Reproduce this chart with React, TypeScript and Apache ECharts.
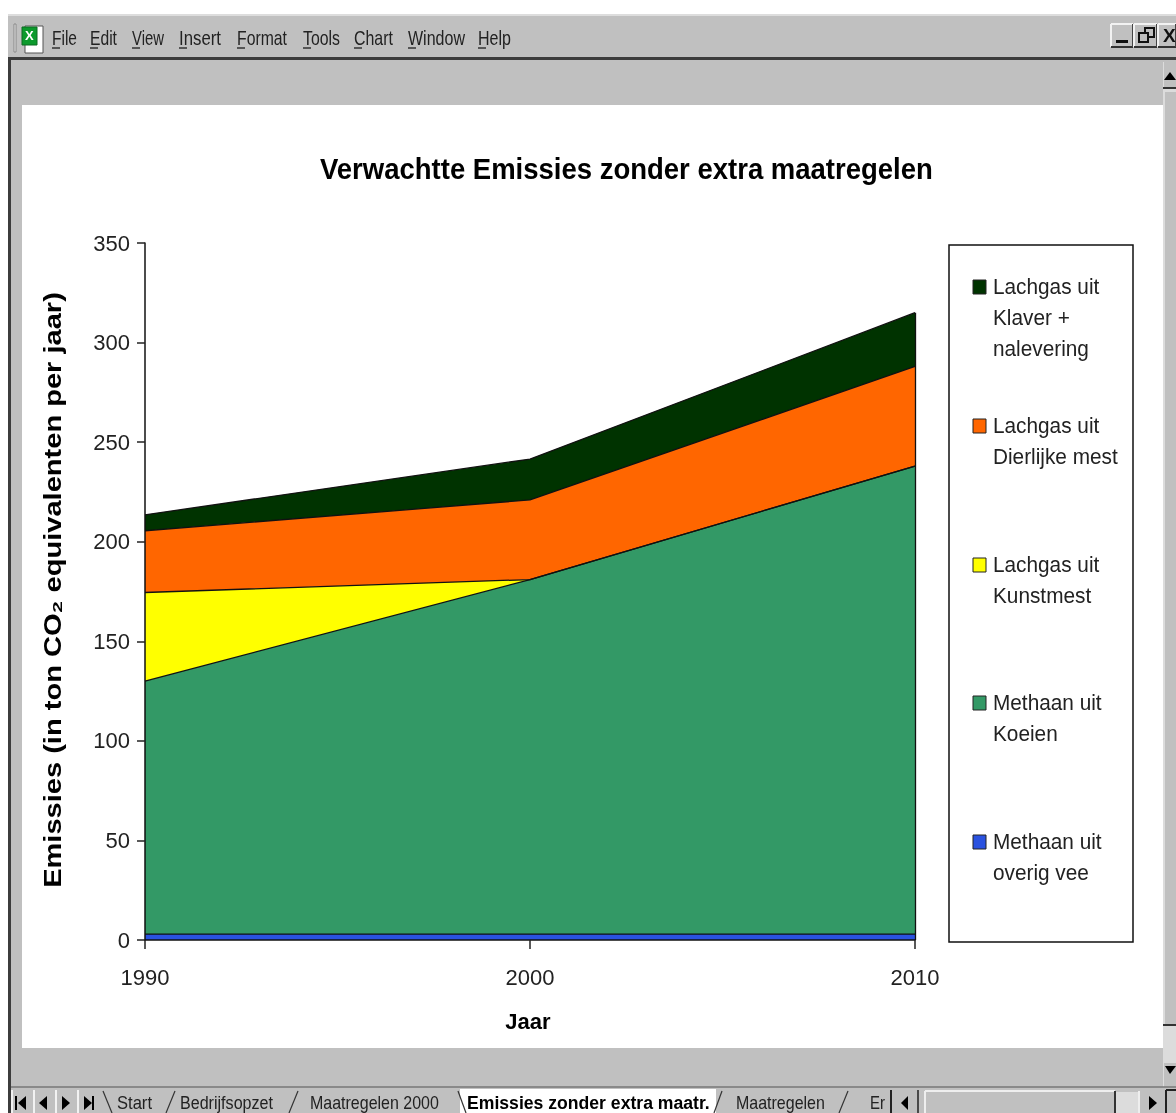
import React, { useEffect, useRef } from "react";
import * as echarts from "echarts";

const years = ["1990", "2000", "2010"];
const overigVee = [3, 3, 3];
const koeien = [127, 178, 235];
const kunstmest = [44.5, 0, 0];
const dierlijkeMest = [31, 40, 50];
const klaver = [8, 20.5, 27];

const seriesNames = ["Methaan uit\noverig vee", "Methaan uit\nKoeien", "Lachgas uit\nKunstmest", "Lachgas uit\nDierlijke mest", "Lachgas uit\nKlaver +\nnalevering"];
const seriesColors = ["#2a52e0", "#339966", "#ffff00", "#ff6600", "#003300"];
const seriesValues = [overigVee, koeien, kunstmest, dierlijkeMest, klaver];
const legendRows = [842, 703, 565, 426, 287];
const chartTitle = "Verwachtte Emissies zonder extra maatregelen";
const yAxisTitle = "Emissies (in ton CO₂ equivalenten per jaar)";
const xAxisTitle = "Jaar";

const menuItems: [string, number, number][] = [
  ["File", 52, 25], ["Edit", 90, 27], ["View", 132, 32], ["Insert", 179, 42], ["Format", 237, 50],
  ["Tools", 303, 37], ["Chart", 354, 39], ["Window", 408, 57], ["Help", 478, 33],
];
const tabs: [string, number, number, boolean][] = [
  ["Start", 117, 35, false], ["Bedrijfsopzet", 180, 93, false], ["Maatregelen 2000", 310, 129, false],
  ["Emissies zonder extra maatr.", 467, 243, true], ["Maatregelen", 736, 89, false], ["Er", 870, 15, false],
];
const tabSeparators = [
  [103, 112], [175, 166], [298, 289], [458, 466], [722, 714], [848, 839],
];

const G = "#c0c0c0";
const SANS = "Liberation Sans";

function rect(x: number, y: number, w: number, h: number, fill: string, stroke?: string, z = -5, lw = 1) {
  return { type: "rect", z, shape: { x, y, width: w, height: h }, style: { fill, stroke: stroke || undefined, lineWidth: stroke ? lw : 0 } };
}
function line(x1: number, y1: number, x2: number, y2: number, stroke: string, lineWidth = 1, z = -3) {
  return { type: "line", z, shape: { x1, y1, x2, y2 }, style: { stroke, lineWidth } };
}
function tri(points: number[][], fill = "#000") {
  return { type: "polygon", z: -2, shape: { points }, style: { fill } };
}
function measure(t: string, font: string) {
  const c = document.createElement("canvas").getContext("2d")!;
  c.font = font;
  return c.measureText(t).width;
}
function fittedText(t: string, x: number, width: number, y: number, size: number, bold = false, fill = "#222", z = -1) {
  const font = `${bold ? "bold " : ""}${size}px ${SANS}`;
  return {
    type: "text", z, x, y, scaleX: width / measure(t, font),
    style: { text: t, fill, font, verticalAlign: "middle" },
  };
}

function chromeElements() {
  const els: any[] = [];
  els.push(rect(0, 0, 1176, 1113, "#ffffff", undefined, -9));
  els.push(rect(8, 14, 1168, 1099, G, undefined, -8));
  els.push(line(8, 15, 1176, 15, "#dddddd", 2));
  els.push(rect(8, 57, 1168, 3, "#3c3c3c", undefined, -4));
  els.push(rect(8, 57, 3, 1056, "#3c3c3c", undefined, -4));
  els.push(rect(22, 105, 1141, 943, "#ffffff", undefined, -4));
  // excel icon
  els.push(rect(14, 24, 2, 28, "#e8e8e8", "#888888"));
  els.push(rect(25, 26, 18, 27, "#ffffff", "#555555", -3));
  els.push(rect(22, 27, 15, 18, "#0c9a2c", "#0a6a20", -2));
  els.push({ type: "text", z: -1, x: 25, y: 29, style: { text: "X", fill: "#ffffff", font: `bold 13px ${SANS}` } });
  // menu
  menuItems.forEach(([t, x, w]) => {
    els.push(fittedText(t, x, w, 38, 20));
    els.push(line(x, 48, x + 8, 48, "#333333", 1.5));
  });
  // window buttons
  [[1111, 22], [1134, 23], [1158, 18]].forEach(([x, w]) => {
    els.push(line(x, 24, x + w, 24, "#f2f2f2", 2));
    els.push(line(x, 24, x, 47, "#f2f2f2", 2));
    els.push(line(x, 47, x + w, 47, "#333333", 2));
    els.push(line(x + w, 24, x + w, 47, "#444444", 2));
  });
  els.push(rect(1116, 40, 12, 3, "#111111", undefined, -2));
  els.push(rect(1145, 28, 9, 9, "none", "#111111", -2, 2));
  els.push(rect(1139, 33, 9, 9, G, "#111111", -1, 2));
  els.push({ type: "text", z: -1, x: 1163, y: 26, style: { text: "X", fill: "#111", font: `bold 19px ${SANS}` } });
  // scrollbar
  els.push(rect(1163, 62, 13, 1026, "#dcdcdc", undefined, -4));
  els.push(rect(1164, 62, 12, 26, G, undefined, -3));
  els.push(line(1163, 88, 1176, 88, "#333333", 2));
  els.push(tri([[1170, 72], [1176, 80], [1164, 80]]));
  els.push(rect(1165, 92, 11, 933, G, undefined, -3));
  els.push(line(1163, 1025, 1176, 1025, "#333333", 2));
  els.push(rect(1164, 1063, 12, 24, G, undefined, -3));
  els.push(tri([[1165, 1066], [1176, 1066], [1170, 1074]]));
  // tab bar
  els.push(rect(11, 1087, 1165, 26, G, undefined, -4));
  els.push(line(11, 1087, 1176, 1087, "#777777", 1.5));
  [12, 34, 56, 78].forEach((x) => els.push(line(x, 1090, x, 1113, "#f2f2f2", 2)));
  els.push(rect(15, 1096, 2, 14, "#000", undefined, -2));
  els.push(tri([[26, 1096], [26, 1110], [18, 1103]]));
  els.push(tri([[47, 1096], [47, 1110], [39, 1103]]));
  els.push(tri([[62, 1096], [62, 1110], [70, 1103]]));
  els.push(tri([[84, 1096], [84, 1110], [92, 1103]]));
  els.push(rect(92, 1096, 2, 14, "#000", undefined, -2));
  els.push(rect(460, 1089, 256, 24, "#ffffff", undefined, -3));
  tabSeparators.forEach(([a, b]) => els.push(line(a, 1091, b, 1113, "#333333", 1.2)));
  tabs.forEach(([t, x, w, active]) => els.push(fittedText(t, x, w, 1103, 18, active, active ? "#000" : "#222")));
  els.push(line(891, 1090, 891, 1113, "#222222", 2));
  els.push(line(918, 1090, 918, 1113, "#222222", 1.5));
  els.push(tri([[908, 1096], [908, 1110], [901, 1103]]));
  els.push(line(925, 1091, 1115, 1091, "#eeeeee", 2));
  els.push(line(925, 1091, 925, 1113, "#eeeeee", 2));
  els.push(line(1115, 1091, 1115, 1113, "#333333", 2));
  els.push(rect(1116, 1092, 22, 21, "#dcdcdc", undefined, -3));
  els.push(line(1139, 1091, 1139, 1113, "#eeeeee", 2));
  els.push(tri([[1149, 1096], [1149, 1110], [1157, 1103]]));
  els.push(line(1166, 1090, 1176, 1090, "#222222", 2));
  els.push(line(1166, 1090, 1166, 1113, "#222222", 2));
  return els;
}

function legendElements() {
  const els: any[] = [];
  els.push({ type: "rect", z: 3, shape: { x: 949, y: 245, width: 184, height: 697 }, style: { fill: "#ffffff", stroke: "#111111", lineWidth: 1.5 } });
  seriesNames.forEach((name, i) => {
    const y = legendRows[i];
    els.push({ type: "rect", z: 4, shape: { x: 973, y: y - 7, width: 13, height: 14 }, style: { fill: seriesColors[i], stroke: "#222222", lineWidth: 1 } });
    els.push({
      type: "text", z: 4, x: 993, y: y - 16, scaleX: 0.945,
      style: { text: name, fill: "#222", font: `22px ${SANS}`, lineHeight: 31, overflow: "none" },
    });
  });
  return els;
}

function titleElements() {
  const yFont = `bold 24px ${SANS}`;
  return [
    { ...fittedText(chartTitle, 320, 613, 169, 30, true, "#000", 5) },
    {
      type: "text", z: 5, x: 53, y: 590, rotation: Math.PI / 2,
      scaleX: 596 / measure(yAxisTitle, yFont),
      style: { text: yAxisTitle, fill: "#000", font: yFont, align: "center", verticalAlign: "middle" },
    },
  ];
}

export default function App() {
  const ref = useRef<HTMLDivElement>(null);
  useEffect(() => {
    const chart = echarts.init(ref.current!, undefined, { renderer: "svg" });
    const font = { fontFamily: SANS, color: "#222" };
    const lastTotal = seriesValues.reduce((s, v) => s + v[v.length - 1], 0);
    chart.setOption({
      animation: false,
      grid: { left: 145, right: 261, top: 243, bottom: 173 },
      xAxis: {
        type: "category", data: years, boundaryGap: false,
        name: xAxisTitle, nameLocation: "middle", nameGap: 70,
        nameTextStyle: { ...font, fontSize: 22, fontWeight: "bold", color: "#000", padding: [0, 4, 0, 0] },
        axisLine: { lineStyle: { color: "#111", width: 1.5 } },
        axisTick: { show: true, length: 9, lineStyle: { color: "#222", width: 1.5 } },
        axisLabel: { ...font, fontSize: 22, margin: 26, showMinLabel: true, showMaxLabel: true, interval: 0 },
        splitLine: { show: false },
        z: 6,
      },
      yAxis: {
        type: "value", min: 0, max: 350, interval: 50,
        axisLine: { show: true, lineStyle: { color: "#111", width: 1.5 } },
        axisTick: { show: true, length: 8, lineStyle: { color: "#222", width: 1.5 } },
        axisLabel: { ...font, fontSize: 22, margin: 15 },
        splitLine: { show: false },
        z: 6,
      },
      series: seriesNames.map((name, i) => ({
        name, type: "line", stack: "emissies", data: seriesValues[i],
        showSymbol: false, symbol: "none", silent: true,
        lineStyle: { color: "#111", width: 1.3 },
        itemStyle: { color: seriesColors[i] },
        areaStyle: { color: seriesColors[i], opacity: 1 },
        ...(i === seriesNames.length - 1
          ? {
              markLine: {
                silent: true, symbol: "none", label: { show: false },
                lineStyle: { color: "#111", width: 1.3, type: "solid" },
                data: [[{ coord: [years[years.length - 1], 0] }, { coord: [years[years.length - 1], lastTotal] }]],
              },
            }
          : {}),
      })),
      graphic: { elements: [...chromeElements(), ...legendElements(), ...titleElements()] },
    });
    return () => chart.dispose();
  }, []);
  return <div ref={ref} style={{ position: "fixed", left: 0, top: 0, width: 1176, height: 1113 }} />;
}
